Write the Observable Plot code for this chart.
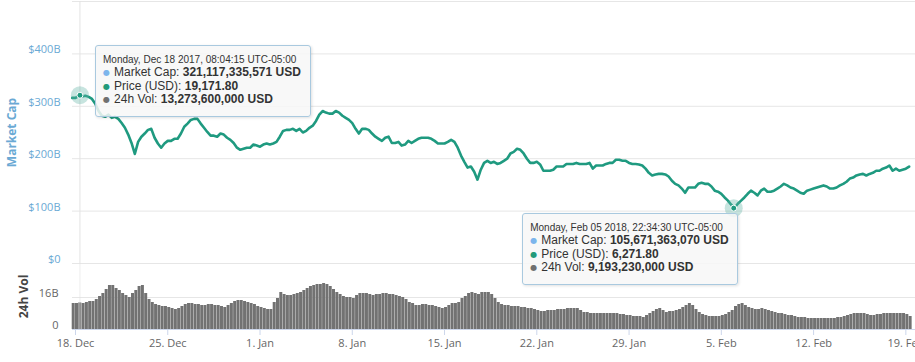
<!DOCTYPE html>
<html>
<head>
<meta charset="utf-8">
<script src="https://cdn.jsdelivr.net/npm/d3@7"></script>
<script src="https://cdn.jsdelivr.net/npm/@observablehq/plot@0.6"></script>
<style>
  html, body { margin: 0; padding: 0; background: #fff; }
  #chart { position: relative; width: 915px; height: 362px; overflow: hidden; font-family: "Open Sans", sans-serif; }
  #chart svg { position: absolute; left: 0; }
  .cap [aria-label="y-axis label"] { font-weight: bold; font-size: 12px; }
  .vol [aria-label="y-axis label"] { font-weight: bold; font-size: 12px; fill: #444; }
  .tip { position: absolute; box-sizing: border-box; width: 216px; height: 72px;
         background: rgba(247,247,247,0.85); border: 1px solid #a9c9df; border-radius: 3px;
         box-shadow: 1px 1px 3px rgba(0,0,0,0.12); padding: 8px 7px 0 7px; color: #333;
         white-space: nowrap; font-size: 12px; font-family: "Liberation Sans", Arial, sans-serif; }
  .tip .hd { font-size: 10px; line-height: 12px; height: 12px; }
  .tip .ln { line-height: 13.5px; height: 13.5px; }
  .tip .bl { font-family: "DejaVu Sans", sans-serif; font-size: 8px; line-height: 8px; display: inline-block; width: 11px; vertical-align: 1px; }
  .tip b { font-weight: bold; }
</style>
</head>
<body>
<div id="chart"></div>
<script>
// ---- data (billions USD), one reading every 6 hours from 17 Dec 2017 18:00 ----
const startTime = Date.UTC(2017, 11, 17, 18);
const stepHours = 6;

const marketCap = [
  316,
  316, 320, 319, 320,   318, 314, 305, 291,   282, 280, 284, 278,   280, 276, 268, 259,
  246, 230, 209, 232,   242, 248, 255, 257,   240, 229, 221, 229,   234, 234, 238, 238,
  248, 261, 267, 274,   276, 276, 267, 259,   251, 244, 244, 242,   248, 246, 240, 236,
  230, 221, 217, 219,   221, 221, 227, 225,   223, 227, 229, 227,   229, 232, 242, 253,
  255, 255, 257, 253,   257, 250, 253, 259,   263, 272, 284, 291,   288, 286, 286, 291,
  288, 282, 278, 274,   268, 257, 248, 257,   257, 255, 248, 242,   238, 234, 240, 242,
  230, 230, 232, 225,   227, 234, 230, 234,   238, 240, 240, 240,   238, 234, 229, 229,
  229, 232, 236, 232,   221, 206, 194, 183,   185, 175, 160, 179,   192, 196, 192, 194,
  190, 192, 196, 200,   210, 213, 219, 217,   210, 200, 192, 192,   194, 189, 177, 177,
  177, 179, 185, 185,   185, 190, 190, 190,   192, 190, 190, 190,   192, 181, 187, 187,
  187, 190, 192, 192,   198, 198, 196, 196,   192, 190, 190, 189,   187, 181, 173, 168,
  170, 171, 171, 170,   166, 158, 152, 149,   143, 135, 145, 145,   145, 152, 154, 152,
  152, 147, 139, 137,   133, 126, 120, 112,   106, 114, 120, 126,   133, 139, 135, 130,
  139, 143, 137, 137,   139, 143, 147, 152,   149, 145, 143, 139,   135, 133, 139, 141,
  143, 145, 147, 149,   147, 143, 143, 145,   149, 152, 156, 162,   164, 168, 170, 171,
  168, 171, 173, 177,   177, 181, 183, 187,   177, 181, 177, 179,   181, 185
];

const volume = [
  13,
  13, 13.3, 13, 13.5,   14, 14, 15, 16.5,   18, 20, 22, 22,   20.5, 19.5, 18, 17,
  16, 18, 19.5, 21.5,   22, 18, 15, 13.5,   12.5, 12, 11.5, 11.5,   11, 10.5, 10, 10.5,
  11.5, 12.5, 13, 13,   12.5, 12.5, 12, 12,   12.5, 12.5, 12, 12,   11.5, 11, 12, 13,
  14, 14.5, 14.5, 14,   13.5, 13, 12.5, 11.5,   11, 10.5, 10, 10,   13.5, 15.5, 18.5, 17.5,
  17, 17, 17.5, 18,   18.5, 19.5, 20.5, 21.5,   22, 22.5, 22.5, 23,   22.5, 21.5, 20, 18.5,
  17.5, 16.5, 16, 16,   15.5, 17, 18, 18,   18, 17.5, 17, 17.5,   17.5, 18, 18, 17.5,
  17.5, 17, 16.5, 16,   15, 13.5, 13, 12,   12, 12.5, 12.5, 12,   12, 11.5, 11, 10.5,
  11, 12, 13, 13,   13.5, 15.5, 16.5, 18,   18.5, 18, 17.5, 18.5,   18.5, 18.5, 17.5, 15.5,
  13.5, 12.5, 12, 12,   11.5, 11.5, 11.5, 11,   11, 10.5, 10.5, 10,   9.5, 9, 9, 9.5,
  9.5, 9.5, 10, 10,   10, 10.5, 10.5, 10.5,   10.5, 9.5, 8.5, 8.5,   8, 8, 8, 8,
  8, 8, 8, 8,   8, 7.5, 7.5, 7,   7, 6.5, 6.5, 6.5,   6, 7, 8, 9,
  10, 10.5, 9.5, 8.5,   9, 9, 9.5, 10,   11, 12, 13, 12,   10, 8.5, 7.5, 7,
  6.5, 6.5, 6.5, 6.5,   7, 7.5, 8.5, 9.5,   11.5, 12.5, 13, 12,   11, 10.5, 10, 10,
  10.5, 10, 9.5, 9,   8.5, 8, 8, 7.5,   7, 7, 6.5, 6,   6, 6, 5.5, 5.5,
  5.5, 5.5, 5.5, 5.5,   5.5, 5.5, 5.5, 6,   6, 6.5, 7, 7.5,   8, 8, 8, 8,
  7.5, 7, 7, 7.5,   7.5, 8, 8, 8,   8, 8, 8, 8,   7.5, 6.5
];

// hovered points (chart-local time, UTC-05:00)
const tipDates      = ["2017-12-18T08:04:15Z", "2018-02-05T22:34:30Z"];
const tipHeaders    = ["Monday, Dec 18 2017, 08:04:15 UTC-05:00", "Monday, Feb 05 2018, 22:34:30 UTC-05:00"];
const tipMarketCap  = [321117335571, 105671363070];
const tipPrice      = [19171.80, 6271.80];
const tipVolume     = [13273600000, 9193230000];

const capTicks = [0, 100, 200, 300, 400];
const capGrid  = [0, 100, 200, 300, 400, 500];
const volTicks = [0, 16];
const volGrid  = [16, 33];

// ---- build ----
const H = stepHours * 3600 * 1000;
const rows = marketCap.map((v, i) => ({date: new Date(startTime + i * H), cap: v, vol: volume[i]}));
const tips = tipDates.map((d, i) => ({date: new Date(d), cap: tipMarketCap[i] / 1e9}));
const xDomain = [new Date(Date.UTC(2017, 11, 17, 18, 32)), new Date(Date.UTC(2018, 1, 19, 17, 35))];
const xTicks = d3.utcMonday.range(new Date(Date.UTC(2017, 11, 18)), new Date(Date.UTC(2018, 1, 20)));

const FONT = "'Open Sans', sans-serif";
const LINE = "#1f9a80";
const BLUE = "#6aa9d4";

const topPlot = Plot.plot({
  width: 915, height: 265,
  marginLeft: 72, marginRight: 0, marginTop: 1, marginBottom: 2,
  className: "cap",
  style: {background: "transparent", overflow: "visible", fontFamily: FONT, fontSize: "11px"},
  x: {type: "utc", domain: xDomain, axis: null},
  y: {domain: [0, 500], axis: null},
  marks: [
    Plot.gridY(capGrid, {stroke: "#e6e6e6", strokeOpacity: 1}),
    Plot.ruleX([tips[0].date], {stroke: "#e3e3e3"}),
    Plot.axisY(capTicks, {
      anchor: "left", tickSize: 0, tickPadding: 12, dy: -4, color: BLUE,
      tickFormat: d => d === 0 ? "$0" : `$${d}B`,
      label: "Market Cap", labelAnchor: "center", labelOffset: 65, labelArrow: false
    }),
    Plot.line(rows, {x: "date", y: "cap", stroke: LINE, strokeWidth: 2.6, strokeLinejoin: "round"}),
    Plot.dot(tips, {x: "date", y: "cap", r: 9, fill: "#5fb3a3", fillOpacity: 0.35}),
    Plot.dot(tips, {x: "date", y: "cap", r: 3, fill: LINE, stroke: "#fff", strokeWidth: 1})
  ]
});
topPlot.style.top = "0px";

const volPlot = Plot.plot({
  width: 915, height: 99,
  marginLeft: 72, marginRight: 0, marginTop: 0, marginBottom: 33,
  className: "vol",
  style: {background: "transparent", overflow: "visible", fontFamily: FONT, fontSize: "11px"},
  x: {type: "utc", domain: xDomain, axis: null},
  y: {domain: [0, 33], axis: null},
  marks: [
    Plot.gridY(volGrid, {stroke: "#e6e6e6", strokeOpacity: 1}),
    Plot.rectY(rows, {x1: "date", x2: d => new Date(+d.date + H), y: "vol", fill: "#727272", insetRight: 0.3}),
    Plot.ruleX([tips[0].date], {stroke: "#e3e3e3", strokeOpacity: 0.6}),
    Plot.ruleY([0], {stroke: "#ccd6eb"}),
    Plot.axisY(volTicks, {
      anchor: "left", tickSize: 0, tickPadding: 14, dy: -4, color: "#666",
      tickFormat: d => d === 0 ? "0" : `${d}B`,
      label: "24h Vol", labelAnchor: "center", labelOffset: 53, labelArrow: false
    }),
    Plot.axisX(xTicks, {
      anchor: "bottom", tickSize: 6, tickPadding: 4, color: "#666", stroke: "#ccd6eb",
      tickFormat: d3.utcFormat("%-d. %b"), label: null
    })
  ]
});
volPlot.style.top = "263px";

const chart = document.getElementById("chart");
chart.appendChild(topPlot);
chart.appendChild(volPlot);

// tooltips, anchored to their points through the plot scales
const sx = topPlot.scale("x"), sy = topPlot.scale("y");
const bulletColors = ["#7cb5ec", "#229a7a", "#707070"];
const offsets = [{dx: 15.6, dy: -49.7}, {dx: -211, dy: 5.4}];
tips.forEach((t, i) => {
  const div = document.createElement("div");
  div.className = "tip";
  div.style.left = (sx.apply(t.date) + offsets[i].dx) + "px";
  div.style.top = (sy.apply(t.cap) + offsets[i].dy) + "px";
  div.innerHTML =
    `<div class="hd">${tipHeaders[i]}</div>` +
    `<div class="ln"><span class="bl" style="color:${bulletColors[0]}">●</span>Market Cap: <b>${d3.format(",")(tipMarketCap[i])} USD</b></div>` +
    `<div class="ln"><span class="bl" style="color:${bulletColors[1]}">●</span>Price (USD): <b>${d3.format(",.2f")(tipPrice[i])}</b></div>` +
    `<div class="ln"><span class="bl" style="color:${bulletColors[2]}">●</span>24h Vol: <b>${d3.format(",")(tipVolume[i])} USD</b></div>`;
  chart.appendChild(div);
});
</script>
</body>
</html>
